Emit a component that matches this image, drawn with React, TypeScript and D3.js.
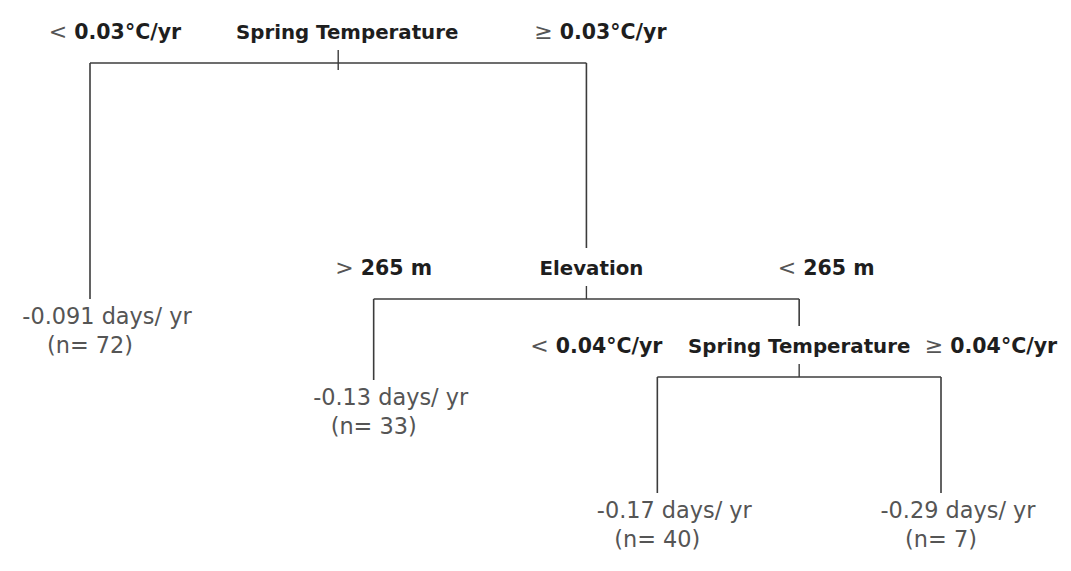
import * as React from 'react';
import * as d3 from 'd3';

// split nodes, top to bottom; each split's right branch holds the next split
const splitVariables = ['Spring Temperature', 'Elevation', 'Spring Temperature'];
const leftSymbols = ['<', '>', '<'];
const leftThresholds = ['0.03°C/yr', '265 m', '0.04°C/yr'];
const rightSymbols = ['≥', '<', '≥'];
const rightThresholds = ['0.03°C/yr', '265 m', '0.04°C/yr'];

// leaves, left to right
const leafValues = [-0.091, -0.13, -0.17, -0.29];
const leafCounts = [72, 33, 40, 7];
const leafUnit = ' days/ yr';

interface TreeNode {
  kind: 'split' | 'leaf';
  index: number;
  children?: TreeNode[];
}

function buildSplit(i: number): TreeNode {
  const last = i === splitVariables.length - 1;
  return {
    kind: 'split',
    index: i,
    children: [
      { kind: 'leaf', index: i },
      last ? { kind: 'leaf', index: i + 1 } : buildSplit(i + 1),
    ],
  };
}

const W = 1071;
const H = 571;
const LINE = '#3c3c3c';
const BOLD = '#1e1e1e';
const LIGHT = '#555';
const FONT = '"DejaVu Sans", Verdana, sans-serif';

export default function App() {
  const root = d3.hierarchy<TreeNode>(buildSplit(0));
  d3.cluster<TreeNode>().nodeSize([1, 1]).separation(() => 1)(root);

  const leaves = root.leaves();
  const [x0, x1] = d3.extent(leaves, d => d.x as number) as [number, number];
  const x = d3.scaleLinear().domain([x0, x1]).range([90, 941]);

  // rows: bar y of each split depth, baseline of leaf text per leaf depth
  const barY = d3.scaleOrdinal<number, number>().domain([0, 1, 2]).range([63, 299, 377]);
  const leafY = d3.scaleOrdinal<number, number>().domain([1, 2, 3]).range([324, 405, 518]);

  // label nudges relative to child x (left, right) and node x (name)
  const nudge = [
    { l: 25, r: 14, n: 9 },
    { l: 10, r: 27, n: 5 },
    { l: -61, r: 50, n: 0 },
  ];

  const splits = root.descendants().filter(d => d.data.kind === 'split');

  const childTop = (c: d3.HierarchyNode<TreeNode>) =>
    c.data.kind === 'split' ? barY(c.depth) - 51 : leafY(c.depth) - 25;

  return (
    <svg width={W} height={H} style={{ position: 'absolute', left: 0, top: 0, background: '#fff' }}>
      {splits.map(s => {
        const i = s.data.index;
        const [lc, rc] = s.children!;
        const yb = barY(s.depth);
        const yt = yb - 24;
        const nx = x(s.x as number);
        return (
          <g key={'s' + i}>
            <line x1={x(lc.x as number)} x2={x(rc.x as number)} y1={yb} y2={yb}
              stroke={LINE} strokeWidth={1.6} />
            <line x1={nx} x2={nx} y1={yb - 13} y2={yb + (s.depth === 0 ? 7 : 0)}
              stroke={LINE} strokeWidth={1.4} />
            {[lc, rc].map((c, k) => (
              <line key={k} x1={x(c.x as number)} x2={x(c.x as number)} y1={yb} y2={childTop(c)}
                stroke={LINE} strokeWidth={1.6} />
            ))}
            <text x={nx + nudge[i].n} y={yt} textAnchor="middle" fontFamily={FONT}
              fontWeight="bold" fontSize={19.8} fill={BOLD}>{splitVariables[i]}</text>
            <text x={x(lc.x as number) + nudge[i].l} y={yt} textAnchor="middle" fontFamily={FONT}>
              <tspan fill={LIGHT} fontSize={22}>{leftSymbols[i]} </tspan>
              <tspan fill={BOLD} fontWeight="bold" fontSize={20.5}>{leftThresholds[i]}</tspan>
            </text>
            <text x={x(rc.x as number) + nudge[i].r} y={yt} textAnchor="middle" fontFamily={FONT}>
              <tspan fill={LIGHT} fontSize={22}>{rightSymbols[i]} </tspan>
              <tspan fill={BOLD} fontWeight="bold" fontSize={20.5}>{rightThresholds[i]}</tspan>
            </text>
          </g>
        );
      })}
      {leaves.map(lf => {
        const j = lf.data.index;
        const lx = x(lf.x as number);
        const ly = leafY(lf.depth);
        return (
          <g key={'l' + j} fontFamily={FONT} fontSize={22.4} fill={LIGHT}>
            <text x={lx + 17} y={ly} textAnchor="middle">{String(leafValues[j]) + leafUnit}</text>
            <text x={lx} y={ly + 29} textAnchor="middle">{`(n= ${leafCounts[j]})`}</text>
          </g>
        );
      })}
    </svg>
  );
}
